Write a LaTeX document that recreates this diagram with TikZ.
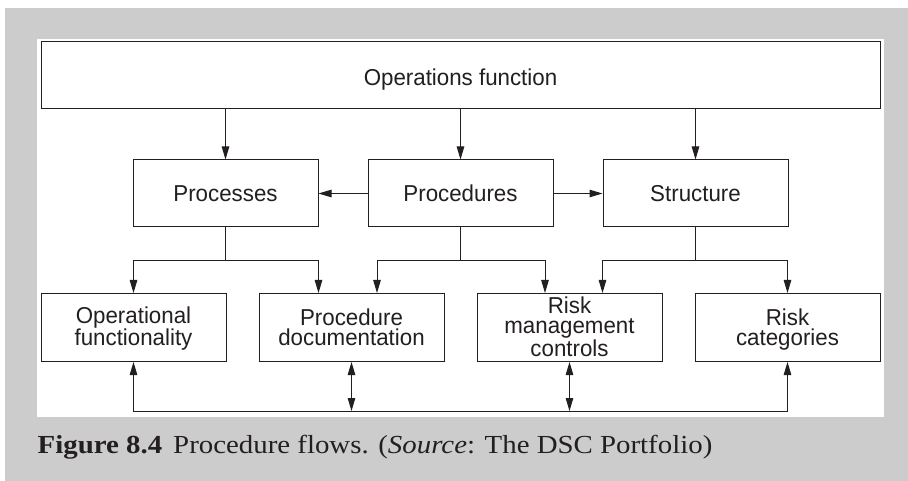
\documentclass[tikz,border=0pt]{standalone}
\usepackage{fontspec}
\setmainfont{Liberation Sans}
\newfontfamily\diagfont[FakeStretch=0.97]{Liberation Sans}
\newfontfamily\capfont[FakeStretch=1.11]{Liberation Serif}
\usetikzlibrary{arrows.meta}
\definecolor{panelgray}{RGB}{204,204,204}
\definecolor{ink}{RGB}{35,31,32}
\begin{document}
\begin{tikzpicture}[x=1pt,y=-1pt,
  box/.style={draw=ink, line width=1pt, fill=white, inner sep=0pt, align=center,
    text=ink, font=\diagfont\fontsize{23}{20}\selectfont, minimum width=185pt, minimum height=67pt,
    text height=16.5pt, text depth=0pt},
  sbox/.style={box, minimum height=68pt},
  two/.style={text height=36.5pt},
  three/.style={text height=57.5pt, font=\diagfont\fontsize{23}{20.5}\selectfont},
  tip/.tip={Triangle[length=13pt,width=7.5pt]},
  conn/.style={draw=ink, line width=1pt, -tip},
  dconn/.style={draw=ink, line width=1pt, tip-tip},
  plain/.style={draw=ink, line width=1pt}]
\useasboundingbox (0,0) rectangle (908,481);
\fill[white] (0,0) rectangle (908,481);
\fill[panelgray] (5,8) rectangle (908,481);
\fill[white] (37,39) rectangle (884,417);

\node[box, minimum width=839pt] (top) at (460.5,75.5) {\raisebox{-1.5pt}{Operations function}};
\node[box] (proc) at (225.5,193.5) {Processes};
\node[box] (procd) at (460.5,193.5) {Procedures};
\node[box] (struct) at (695.5,193.5) {Structure};

\node[sbox, two] (op) at (133.5,327.5) {Operational\\functionality};
\node[sbox, two] (doc) at (351.5,327.5) {Procedure\\documentation};
\node[sbox, three] (risk) at (569.5,327.5) {Risk\\management\\controls};
\node[sbox, two] (cat) at (787.5,327.5) {Risk\\categories};

\draw[conn] (top.south -| proc.south) -- (proc.north);
\draw[conn] (top.south) -- (procd.north);
\draw[conn] (top.south -| struct.south) -- (struct.north);
\draw[conn] (procd.west) -- (proc.east);
\draw[conn] (procd.east) -- (struct.west);

\coordinate (j1) at (225.5,261);
\coordinate (j2) at (460.5,261);
\coordinate (j3) at (695.5,261);
\draw[plain] (proc.south) -- (j1);
\draw[conn] (j1) -| (op.north);
\draw[conn] (j1) -| (proc.east |- doc.north);
\draw[plain] (procd.south) -- (j2);
\draw[conn] (j2) -| ([xshift=25.5pt]doc.north);
\draw[conn] (j2) -| ([xshift=-24.5pt]risk.north);
\draw[plain] (struct.south) -- (j3);
\draw[conn] (j3) -| (struct.west |- risk.north);
\draw[conn] (j3) -| (cat.north);

\coordinate (bl) at (133.5,411);
\coordinate (br) at (787.5,411);
\draw[dconn] (op.south) -- (bl) -- (br) -- (cat.south);
\draw[dconn] (doc.south) -- (doc.south |- bl);
\draw[dconn] (risk.south) -- (risk.south |- bl);

\node[anchor=base west, inner sep=0pt, text=ink, font=\capfont\fontsize{26}{26}\selectfont] (cap) at (37.5,453.5)
  {\textbf{Figure 8.4}\hspace{11pt}Procedure flows. (\textit{Source}: The DSC Portfolio)};
\end{tikzpicture}
\end{document}
